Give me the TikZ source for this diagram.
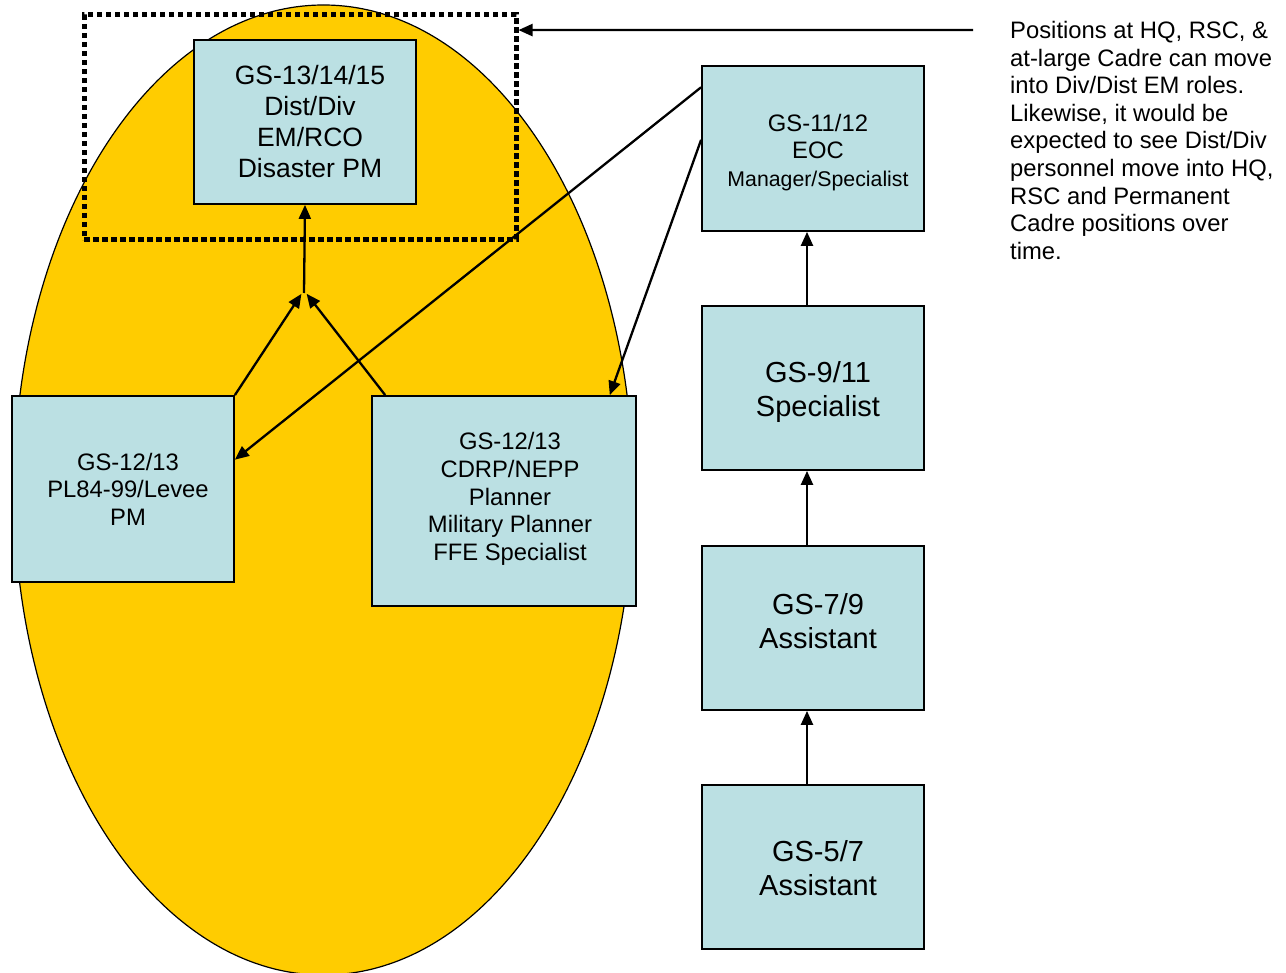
\documentclass[tikz,border=0pt]{standalone}
\usepackage{fontspec}
\setmainfont{Liberation Sans}
\usetikzlibrary{arrows.meta,calc}
\definecolor{boxfill}{HTML}{BBE0E3}
\definecolor{ovalfill}{HTML}{FFCC00}
\begin{document}
\begin{tikzpicture}[x=1pt,y=-1pt,
  box/.style={draw=black,line width=1.8pt,fill=boxfill,inner sep=0pt},
  boxtext/.style={align=center,inner sep=0pt},
  arr/.style={line width=2.3pt,-{Triangle[length=14pt,width=12pt]}},
  dotbox/.style={draw=black,line width=5pt,dash pattern=on 5.5pt off 3.5pt,inner sep=0pt,outer sep=0pt},
  note/.style={align=left,inner sep=0pt,anchor=north west,font=\fontsize{23.8}{27.6}\selectfont}
]
\useasboundingbox (0,0) rectangle (1286,973);
\begin{scope}
  \clip (0,0) rectangle (1286,973);
  \draw[fill=ovalfill,line width=1.2pt] (323.5,490) ellipse [x radius=309.5, y radius=485];
\end{scope}

\node[dotbox,minimum width=432pt,minimum height=225pt] (dot) at (300,127.5) {};

\node[box,minimum width=222pt,minimum height=164pt] (top) at (305,122) {};
\node[boxtext,font=\fontsize{26.5}{31}\selectfont] (toptxt) at ([xshift=5pt]top.center)
  {GS-13/14/15\\Dist/Div\\EM/RCO\\Disaster PM};
\node[box,minimum width=222pt,minimum height=165pt] (eoc) at (813,148.5) {};
\node[boxtext,font=\fontsize{23.8}{27.5}\selectfont] (eoctxt) at ([xshift=5pt,yshift=-4pt]eoc.center)
  {GS-11/12\\EOC\\{\fontsize{21.3}{26}\selectfont Manager/Specialist}};
\node[box,minimum width=222pt,minimum height=164pt] (b911) at (813,388) {};
\node[boxtext,font=\fontsize{29}{34}\selectfont] (b911txt) at ([xshift=5pt,yshift=-4pt]b911.center)
  {GS-9/11\\Specialist};
\node[box,minimum width=222pt,minimum height=164pt] (b79) at (813,628) {};
\node[boxtext,font=\fontsize{29}{34}\selectfont] (b79txt) at ([xshift=5pt,yshift=7pt]b79.center)
  {GS-7/9\\Assistant};
\node[box,minimum width=222pt,minimum height=164pt] (b57) at (813,867) {};
\node[boxtext,font=\fontsize{29}{34}\selectfont] (b57txt) at ([xshift=5pt,yshift=-1pt]b57.center)
  {GS-5/7\\Assistant};
\node[box,minimum width=222pt,minimum height=186pt] (pl) at (123,489) {};
\node[boxtext,font=\fontsize{23.8}{27.6}\selectfont] (pltxt) at ([xshift=5pt]pl.center)
  {GS-12/13\\PL84-99/Levee\\PM};
\node[box,minimum width=264pt,minimum height=210pt] (cd) at (504,501) {};
\node[boxtext,font=\fontsize{23.8}{27.7}\selectfont] (cdtxt) at ([xshift=6pt,yshift=2pt]cd.center)
  {GS-12/13\\CDRP/NEPP\\Planner\\Military Planner\\FFE Specialist};

\node[note] (txt) at (1010,21) {Positions at HQ, RSC, \&\\at-large Cadre can move\\into Div/Dist EM roles.\\Likewise, it would be\\expected to see Dist/Div\\personnel move into HQ,\\RSC and Permanent\\Cadre positions over\\time.};

\coordinate (apex) at (304,293);
\coordinate (notestart) at (973,30);

\draw[arr] (apex) -- (top.south);
\draw[arr,shorten >=1pt] (pl.north east) -- ([xshift=-2pt]apex);
\draw[arr,shorten >=1pt] ($(cd.north west)!0.053!(cd.north east)$) -- ([xshift=2pt]apex);
\draw[arr] ($(eoc.north west)!0.133!(eoc.south west)$) -- ($(pl.north east)!0.344!(pl.south east)$);
\draw[arr] ($(eoc.north west)!0.448!(eoc.south west)$) -- ($(cd.north west)!0.898!(cd.north east)$);
\draw[arr] ([xshift=-6pt]b911.north) -- ([xshift=-6pt]eoc.south);
\draw[arr] ([xshift=-6pt]b79.north) -- ([xshift=-6pt]b911.south);
\draw[arr] ([xshift=-6pt]b57.north) -- ([xshift=-6pt]b79.south);
\draw[arr,shorten >=2.5pt] (notestart) -- ($(dot.north east)!0.067!(dot.south east)$);
\end{tikzpicture}
\end{document}
